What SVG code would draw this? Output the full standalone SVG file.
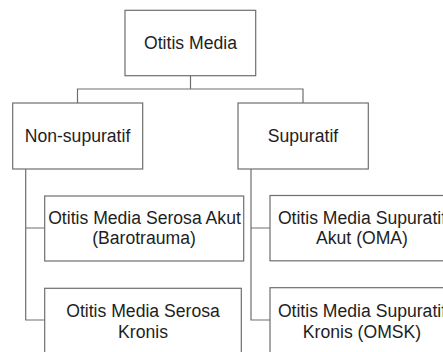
<svg xmlns="http://www.w3.org/2000/svg" width="443" height="352" viewBox="0 0 443 352">
<style>
.box{fill:#fff;stroke:#6e6e6e;stroke-width:1.2}
.ln{fill:none;stroke:#6e6e6e;stroke-width:1.2}
text{font-family:"Liberation Sans",Arial,sans-serif;font-size:17.6px;fill:#1e1e1e;text-anchor:middle}
</style>
<rect width="443" height="352" fill="#fff"/>
<g id="connectors">
<path class="ln" d="M190.5 76V89M77.5 103V89H303V103"/>
<path class="ln" d="M25.7 169V320H44.7M25.7 228H44.7"/>
<path class="ln" d="M251 169V320H270M251 228H270"/>
</g>
<g id="otitis-media"><rect class="box" x="125" y="10.3" width="130.7" height="65.4"/><text x="190.5" y="49">Otitis Media</text></g>
<g id="non-supuratif"><rect class="box" x="12.7" y="103" width="130" height="66"/><text x="77.5" y="141.5">Non-supuratif</text></g>
<g id="supuratif"><rect class="box" x="238" y="103" width="130.3" height="66"/><text x="303" y="141.5">Supuratif</text></g>
<g id="omsa"><rect class="box" x="44.7" y="196" width="199" height="65"/><text x="144.5" y="224">Otitis Media Serosa Akut</text><text x="144" y="244">(Barotrauma)</text></g>
<g id="omsk-serosa"><rect class="box" x="44.7" y="288.3" width="196.6" height="80"/><text x="143" y="317">Otitis Media Serosa</text><text x="143" y="338">Kronis</text></g>
<g id="oma"><rect class="box" x="270" y="195.5" width="184" height="65.3"/><text x="362" y="224">Otitis Media Supuratif</text><text x="362" y="244">Akut (OMA)</text></g>
<g id="omsk"><rect class="box" x="270" y="287.7" width="184" height="80"/><text x="362" y="317">Otitis Media Supuratif</text><text x="362" y="338">Kronis (OMSK)</text></g>
</svg>
